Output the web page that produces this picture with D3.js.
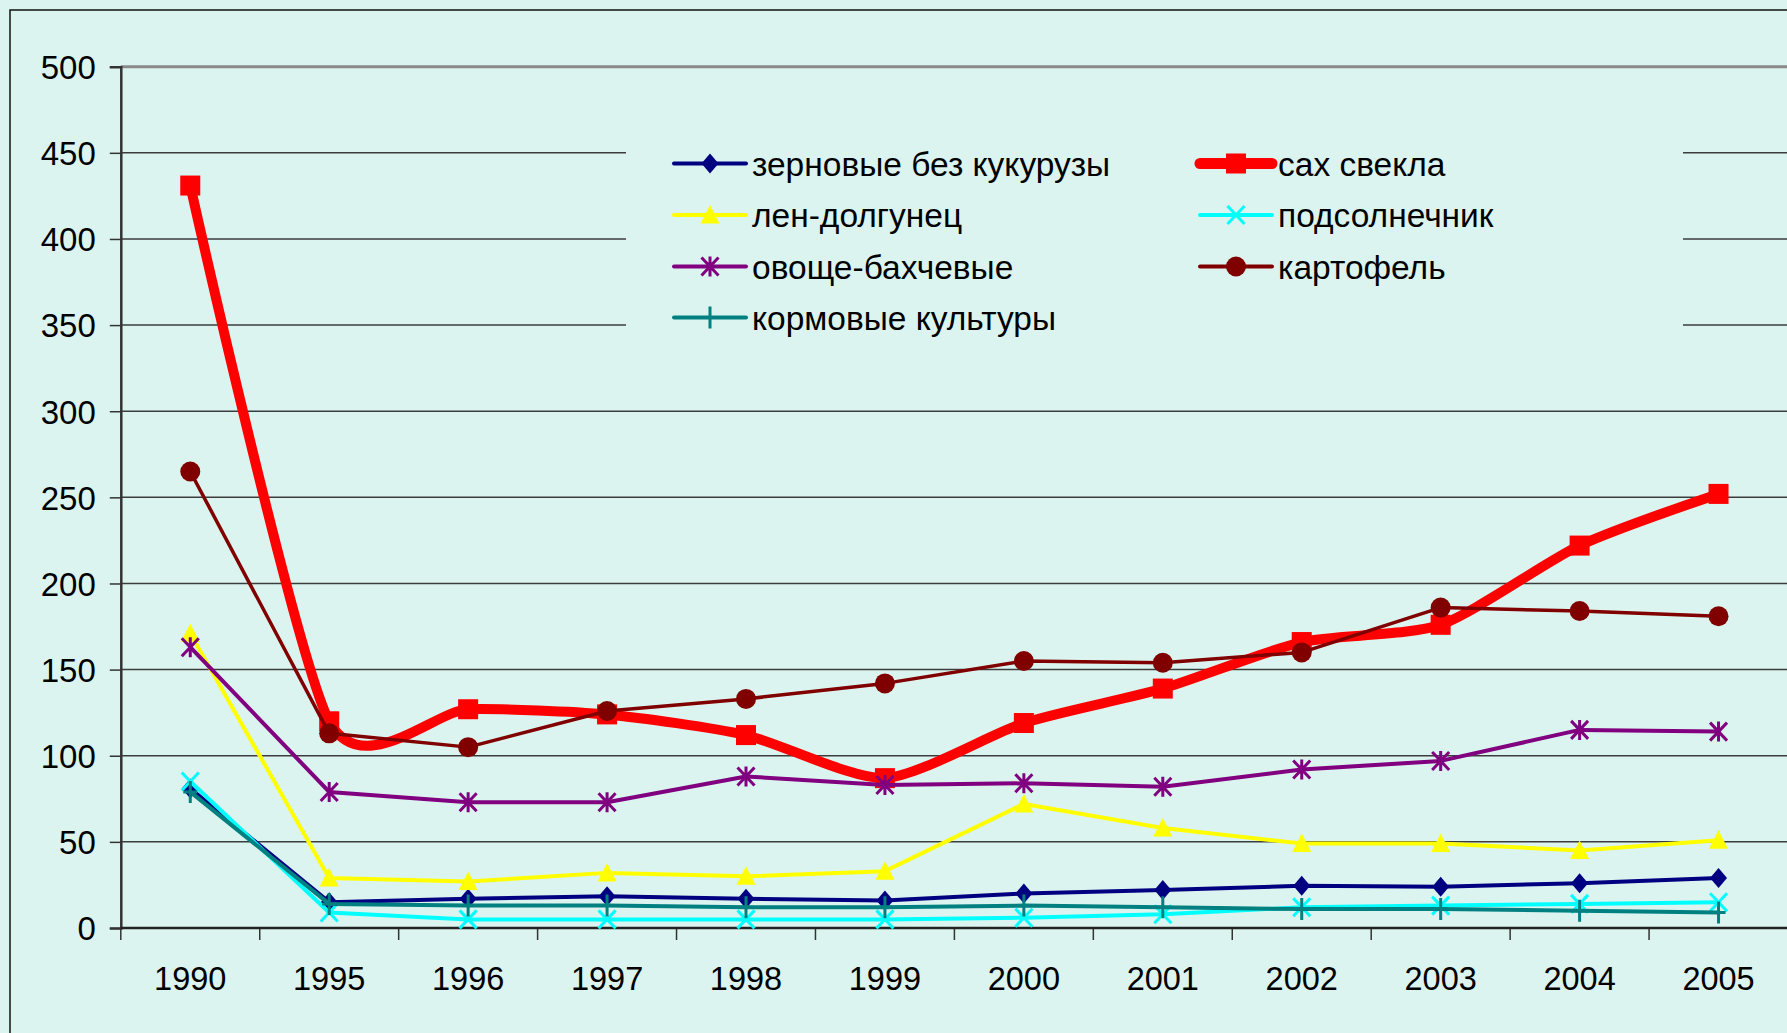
<!DOCTYPE html>
<html>
<head>
<meta charset="utf-8">
<script src="https://cdn.jsdelivr.net/npm/d3@7"></script>
<style>
  body { margin: 0; background: #dcf4ef; }
  svg { display: block; font-family: "Liberation Sans", Arial, sans-serif; }
</style>
</head>
<body>
<div id="container"></div>
<script>
/* DATA */
const years = ["1990", "1995", "1996", "1997", "1998", "1999", "2000", "2001", "2002", "2003", "2004", "2005"];
const grain = [81, 15, 17, 18.5, 17, 16, 20, 22, 24.5, 24, 26, 29];
const sugarBeet = [431, 120, 127, 124, 112, 87, 119, 139, 166, 176, 222, 252];
const flax = [171, 29, 27, 32, 30, 33, 72, 58, 49, 49, 45, 51];
const sunflower = [85, 9, 5, 5, 5, 5, 6, 8, 12, 13, 14, 15];
const vegetables = [163, 79, 73, 73, 88, 83, 84, 82, 92, 97, 115, 114];
const potato = [265, 113, 105, 126, 133, 142, 155, 154, 160, 186, 184, 181];
const fodder = [79, 14, 13, 13, 12, 12, 13, 12, 11, 11, 10, 9];
const yTicks = [0, 50, 100, 150, 200, 250, 300, 350, 400, 450, 500];

const series = [
  { name: "зерновые без кукурузы", values: grain, color: "#000080", width: 4, marker: "diamond" },
  { name: "сах свекла", values: sugarBeet, color: "#ff0000", width: 10, marker: "square", smooth: true },
  { name: "лен-долгунец", values: flax, color: "#ffff00", width: 4, marker: "triangle" },
  { name: "подсолнечник", values: sunflower, color: "#00ffff", width: 4, marker: "x" },
  { name: "овоще-бахчевые", values: vegetables, color: "#800080", width: 4, marker: "asterisk" },
  { name: "картофель", values: potato, color: "#800000", width: 3.5, marker: "circle" },
  { name: "кормовые культуры", values: fodder, color: "#008080", width: 4, marker: "plus" }
];

/* CONSTANTS AND GLOBALS */
const width = 1787;
const height = 1033;
const plot = { left: 120.8, right: 1788, top: 66.7, bottom: 928 };
const bg = "#dcf4ef";

const svg = d3.select("#container")
  .append("svg")
  .attr("width", width)
  .attr("height", height)
  .style("background-color", bg);

// outer chart border (runs off the right and bottom)
svg.append("rect")
  .attr("x", 10).attr("y", 10)
  .attr("width", 2000).attr("height", 2000)
  .attr("fill", "none")
  .attr("stroke", "#111")
  .attr("stroke-width", 1.5);

const x = d3.scaleBand().domain(years).range([plot.left, plot.right]);
const y = d3.scaleLinear().domain([0, 500]).range([plot.bottom, plot.top]);
const cx = d => x(d) + x.bandwidth() / 2;

// gridlines
svg.append("g")
  .selectAll("line")
  .data(yTicks.filter(d => d > 0 && d < 500))
  .join("line")
  .attr("x1", plot.left).attr("x2", plot.right)
  .attr("y1", d => y(d)).attr("y2", d => y(d))
  .attr("stroke", "#3c3c3c")
  .attr("stroke-width", 1.5);

svg.append("line")
  .attr("x1", plot.left).attr("x2", plot.right)
  .attr("y1", y(500)).attr("y2", y(500))
  .attr("stroke", "#8a8a8a")
  .attr("stroke-width", 3);

// y axis
const yAxis = svg.append("g")
  .attr("transform", `translate(${plot.left},0)`)
  .call(d3.axisLeft(y).tickValues(yTicks).tickSize(11).tickPadding(14).tickFormat(d3.format("d")));
yAxis.select(".domain").attr("stroke", "#333").attr("stroke-width", 2.5);
yAxis.selectAll(".tick line").attr("stroke", "#333").attr("stroke-width", 1.5);
yAxis.selectAll("text")
  .attr("fill", "#000")
  .style("font-size", "33px")
  .attr("dy", "0.36em");

// x axis
const xAxis = svg.append("g")
  .attr("transform", `translate(0,${plot.bottom})`)
  .call(d3.axisBottom(x).tickSize(0).tickPadding(39));
xAxis.select(".domain").remove();
xAxis.selectAll("text")
  .attr("fill", "#000")
  .style("font-size", "32.5px")
  .attr("dy", "0.71em");

svg.append("g")
  .selectAll("line")
  .data(years.map(d => x(d)).concat([plot.right]))
  .join("line")
  .attr("x1", d => d).attr("x2", d => d)
  .attr("y1", plot.bottom).attr("y2", plot.bottom + 12)
  .attr("stroke", "#333")
  .attr("stroke-width", 1.5);

svg.append("line")
  .attr("x1", plot.left).attr("x2", plot.right)
  .attr("y1", plot.bottom).attr("y2", plot.bottom)
  .attr("stroke", "#222")
  .attr("stroke-width", 2.5);

// legend box hides the gridlines behind it
svg.append("rect")
  .attr("x", 626).attr("y", 128)
  .attr("width", 1057).attr("height", 224)
  .attr("fill", bg);

/* markers */
function drawMarker(g, type, color) {
  if (type === "circle") {
    g.append("circle").attr("r", 10).attr("fill", color);
  } else if (type === "square") {
    g.append("rect").attr("x", -10).attr("y", -10).attr("width", 20).attr("height", 20).attr("fill", color);
  } else if (type === "diamond") {
    g.append("path").attr("d", "M0,-10L8.5,0L0,10L-8.5,0Z").attr("fill", color);
  } else if (type === "triangle") {
    g.append("path").attr("d", "M0,-10L9.5,8.5L-9.5,8.5Z").attr("fill", color);
  } else {
    let d = "";
    if (type === "x" || type === "asterisk") d += "M-8.5,-9L8.5,9M-8.5,9L8.5,-9";
    if (type === "asterisk") d += "M0,-10L0,10";
    if (type === "plus") d += "M0,-11L0,11M-7,0L7,0";
    g.append("path").attr("d", d).attr("fill", "none")
      .attr("stroke", color).attr("stroke-width", 3);
  }
}

const line = d3.line()
  .x((d, i) => cx(years[i]))
  .y(d => y(d));

series.forEach(s => {
  svg.append("path")
    .datum(s.values)
    .attr("fill", "none")
    .attr("stroke", s.color)
    .attr("stroke-width", s.width)
    .attr("stroke-linejoin", "round")
    .attr("stroke-linecap", "round")
    .attr("d", line.curve(s.smooth ? d3.curveCardinal.tension(0.3) : d3.curveLinear));

  s.values.forEach((v, i) => {
    const g = svg.append("g").attr("transform", `translate(${cx(years[i])},${y(v)})`);
    drawMarker(g, s.marker, s.color);
  });
});

/* legend */
const legendCols = [674, 1200];
const legendRows = [163.5, 215, 266.5, 317.5];
series.forEach((s, i) => {
  const lx = legendCols[i % 2];
  const ly = legendRows[Math.floor(i / 2)];
  const g = svg.append("g").attr("transform", `translate(${lx},${ly})`);
  g.append("line")
    .attr("x1", 0).attr("x2", 72)
    .attr("stroke", s.color)
    .attr("stroke-width", s.smooth ? 11 : 4)
    .attr("stroke-linecap", "round");
  drawMarker(g.append("g").attr("transform", "translate(36,0)"), s.marker, s.color);
  g.append("text")
    .attr("x", 78).attr("y", 12)
    .style("font-size", "33.5px")
    .attr("fill", "#000")
    .text(s.name);
});
</script>
</body>
</html>
